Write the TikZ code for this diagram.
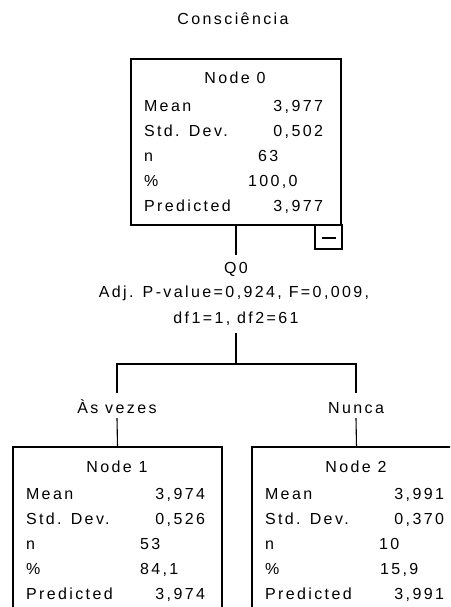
\documentclass[tikz,border=0pt]{standalone}
\usepackage{fontspec}
\setmainfont{Liberation Sans}[LetterSpace=15]
\usetikzlibrary{calc}
\newcommand\treestats[9]{%
  \node[txt,anchor=base] (#1-title) at (#2+104,#3+25) {#4};
  \node[txt,anchor=base west] (#1-l1) at (#2+13,#3+52) {Mean};
  \node[txt,anchor=base east] (#1-v1) at (#2+192,#3+52) {#5};
  \node[txt,anchor=base west] (#1-l2) at (#2+13,#3+77) {Std. Dev.};
  \node[txt,anchor=base east] (#1-v2) at (#2+192,#3+77) {#6};
  \node[txt,anchor=base west] (#1-l3) at (#2+13,#3+102) {n};
  \node[txt,anchor=base west] (#1-v3) at (#2+127,#3+102) {#7};
  \node[txt,anchor=base west] (#1-l4) at (#2+13,#3+127) {\%};
  \node[txt,anchor=base west] (#1-v4) at (#2+#9,#3+127) {#8};
  \node[txt,anchor=base west] (#1-l5) at (#2+13,#3+152) {Predicted};
  \node[txt,anchor=base east] (#1-v5) at (#2+192,#3+152) {#5};
}
\begin{document}
\begin{tikzpicture}[x=1pt,y=-1pt,
  every node/.style={font=\fontsize{16}{19}\selectfont, inner sep=0pt, outer sep=0pt},
  txt/.style={text height=12pt, text depth=3pt},
  box/.style={draw, line width=1.2pt, fill=white},
  conn/.style={line width=1.1pt}]
\useasboundingbox (0,0) rectangle (450,607);
\clip (0,0) rectangle (450,607);
\fill[white] (0,0) rectangle (450,607);

\node[txt,anchor=base] (title) at (233,25) {Consciência};

\node[box, minimum width=210pt, minimum height=166pt] (node0) at (236,142) {};
\node[box, minimum width=27pt, minimum height=24pt] (toggle) at (328.5,237) {};
\draw[conn] ([xshift=-7pt,yshift=-1pt]toggle.center) -- ([xshift=7pt,yshift=-1pt]toggle.center);
\treestats{n0}{131}{59}{Node 0}{3,977}{0,502}{63}{100,0}{117}

\node[box, minimum width=209pt, minimum height=200pt] (node1) at (117.5,547) {};
\treestats{n1}{13}{447}{Node 1}{3,974}{0,526}{53}{84,1}{127}

\node[box, minimum width=209pt, minimum height=200pt] (node2) at (356.5,547) {};
\treestats{n2}{252}{447}{Node 2}{3,991}{0,370}{10}{15,9}{128}

\node[txt,anchor=base] (q0) at (236,273) {Q0};
\node[txt,anchor=base] (pval) at (234,297) {Adj. P-value=0,924, F=0,009,};
\node[txt,anchor=base] (df) at (236,323) {df1=1, df2=61};
\node[txt,anchor=base] (lab1) at (117,413) {Às vezes};
\node[txt,anchor=base] (lab2) at (356,413) {Nunca};
\coordinate (junction) at (236,364);

\draw[conn] (node0.south) -- ([yshift=6pt]q0.north);
\draw[conn] ([yshift=-7pt]df.south) -- (junction);
\draw[conn] ([yshift=8pt]lab1.north) |- (junction) -| ([yshift=8pt]lab2.north);
\draw[conn] ([yshift=-2pt]lab1.south) -- (node1.north);
\draw[conn] ([yshift=-2pt]lab2.south) -- (node2.north);
\end{tikzpicture}
\end{document}
